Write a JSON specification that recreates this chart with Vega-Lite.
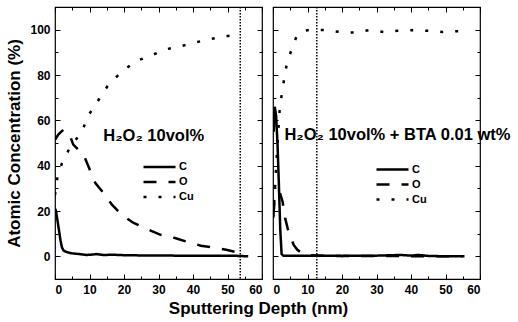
{
  "$schema": "https://vega.github.io/schema/vega-lite/v6.json",
  "padding": {"left": 5, "top": 5, "right": 0, "bottom": 0},
  "background": "white",
  "title": {"text": "Sputtering Depth (nm)", "orient": "bottom", "anchor": "middle", "font": "Liberation Sans", "fontSize": 17, "fontWeight": "bold", "color": "black", "offset": 5},
  "config": {
    "view": {"stroke": "black", "strokeWidth": 1.2},
    "axis": {"labelFont": "Liberation Sans", "labelFontSize": 12, "labelFontWeight": "bold", "labelColor": "black", "titleFont": "Liberation Sans", "titleFontSize": 17, "titleFontWeight": "bold", "titleColor": "black", "domain": false, "grid": false, "tickColor": "black", "tickWidth": 1},
    "legend": {"orient": "none", "title": null, "symbolType": "M-2,0H2", "symbolSize": 256, "symbolStrokeWidth": 2.5, "symbolStrokeColor": "black", "labelFont": "Liberation Sans", "labelFontSize": 11, "labelFontWeight": "bold", "labelColor": "black", "labelOffset": 10, "rowPadding": -1, "padding": 0},
    "concat": {"spacing": 7}
  },
  "datasets": {
    "left": [
      {"element": "C", "depth": 0.1, "value": 21}, {"element": "C", "depth": 0.4, "value": 19}, {"element": "C", "depth": 0.8, "value": 15}, {"element": "C", "depth": 1.2, "value": 11}, {"element": "C", "depth": 1.6, "value": 7}, {"element": "C", "depth": 2.0, "value": 4}, {"element": "C", "depth": 2.5, "value": 2.5}, {"element": "C", "depth": 3.5, "value": 1.8}, {"element": "C", "depth": 5, "value": 1.3}, {"element": "C", "depth": 7, "value": 1}, {"element": "C", "depth": 9, "value": 0.6}, {"element": "C", "depth": 11, "value": 0.8}, {"element": "C", "depth": 12, "value": 1}, {"element": "C", "depth": 14, "value": 0.6}, {"element": "C", "depth": 17, "value": 0.7}, {"element": "C", "depth": 20, "value": 0.5}, {"element": "C", "depth": 25, "value": 0.4}, {"element": "C", "depth": 30, "value": 0.4}, {"element": "C", "depth": 35, "value": 0.3}, {"element": "C", "depth": 40, "value": 0.3}, {"element": "C", "depth": 45, "value": 0.3}, {"element": "C", "depth": 50, "value": 0.3}, {"element": "C", "depth": 53, "value": 0.2}, {"element": "C", "depth": 56, "value": 0},
      {"element": "O", "depth": 0, "value": 51.4}, {"element": "O", "depth": 1, "value": 53.8}, {"element": "O", "depth": 2.4, "value": 55.8}, {"element": "O", "depth": 3.5, "value": 55}, {"element": "O", "depth": 4.5, "value": 52.5}, {"element": "O", "depth": 5.3, "value": 49.3}, {"element": "O", "depth": 6.8, "value": 47}, {"element": "O", "depth": 8.3, "value": 44.8}, {"element": "O", "depth": 9.7, "value": 39.6}, {"element": "O", "depth": 11.7, "value": 32.3}, {"element": "O", "depth": 14.1, "value": 27.9}, {"element": "O", "depth": 16.5, "value": 22.8}, {"element": "O", "depth": 19.4, "value": 18.3}, {"element": "O", "depth": 22.8, "value": 14.7}, {"element": "O", "depth": 27.2, "value": 11.7}, {"element": "O", "depth": 30.6, "value": 9.5}, {"element": "O", "depth": 35, "value": 8}, {"element": "O", "depth": 37.9, "value": 6.6}, {"element": "O", "depth": 42.3, "value": 4.7}, {"element": "O", "depth": 45.7, "value": 4}, {"element": "O", "depth": 49.6, "value": 2.9}, {"element": "O", "depth": 52.5, "value": 1.9}, {"element": "O", "depth": 54, "value": 1},
      {"element": "Cu", "depth": 0, "value": 27}, {"element": "Cu", "depth": 0.7, "value": 35}, {"element": "Cu", "depth": 2, "value": 41}, {"element": "Cu", "depth": 4, "value": 47}, {"element": "Cu", "depth": 5.8, "value": 51}, {"element": "Cu", "depth": 7.8, "value": 55}, {"element": "Cu", "depth": 9.6, "value": 62}, {"element": "Cu", "depth": 12.2, "value": 68}, {"element": "Cu", "depth": 15.2, "value": 75}, {"element": "Cu", "depth": 19, "value": 81}, {"element": "Cu", "depth": 23.3, "value": 86}, {"element": "Cu", "depth": 27.7, "value": 88.5}, {"element": "Cu", "depth": 32, "value": 91.3}, {"element": "Cu", "depth": 36.4, "value": 92.7}, {"element": "Cu", "depth": 40.8, "value": 94.4}, {"element": "Cu", "depth": 45.2, "value": 95.9}, {"element": "Cu", "depth": 50, "value": 97.2}, {"element": "Cu", "depth": 54, "value": 97.7}
    ],
    "right": [
      {"element": "C", "depth": 0.2, "value": 55}, {"element": "C", "depth": 0.5, "value": 66}, {"element": "C", "depth": 0.9, "value": 62}, {"element": "C", "depth": 1.3, "value": 50}, {"element": "C", "depth": 1.7, "value": 32}, {"element": "C", "depth": 2.1, "value": 12}, {"element": "C", "depth": 2.5, "value": 1}, {"element": "C", "depth": 3, "value": 0.3}, {"element": "C", "depth": 10, "value": 0.3}, {"element": "C", "depth": 20, "value": 0.2}, {"element": "C", "depth": 30, "value": 0.3}, {"element": "C", "depth": 37, "value": 0.6}, {"element": "C", "depth": 40, "value": 0.3}, {"element": "C", "depth": 42, "value": 0.6}, {"element": "C", "depth": 45, "value": 0.2}, {"element": "C", "depth": 50, "value": 0}, {"element": "C", "depth": 55.5, "value": 0},
      {"element": "O", "depth": 0.1, "value": 18}, {"element": "O", "depth": 0.5, "value": 25}, {"element": "O", "depth": 1.2, "value": 27}, {"element": "O", "depth": 2, "value": 28}, {"element": "O", "depth": 2.8, "value": 24}, {"element": "O", "depth": 3.5, "value": 17}, {"element": "O", "depth": 4.3, "value": 12}, {"element": "O", "depth": 5, "value": 9}, {"element": "O", "depth": 6, "value": 5}, {"element": "O", "depth": 7, "value": 3}, {"element": "O", "depth": 8.2, "value": 1.5}, {"element": "O", "depth": 10, "value": 0.5}, {"element": "O", "depth": 15, "value": 0.2}, {"element": "O", "depth": 55, "value": 0},
      {"element": "Cu", "depth": 0.1, "value": 17}, {"element": "Cu", "depth": 0.5, "value": 28}, {"element": "Cu", "depth": 1, "value": 42}, {"element": "Cu", "depth": 1.4, "value": 52}, {"element": "Cu", "depth": 1.9, "value": 64}, {"element": "Cu", "depth": 2.4, "value": 70}, {"element": "Cu", "depth": 3.1, "value": 77}, {"element": "Cu", "depth": 3.9, "value": 84}, {"element": "Cu", "depth": 5.1, "value": 90}, {"element": "Cu", "depth": 6.8, "value": 97}, {"element": "Cu", "depth": 9, "value": 99.5}, {"element": "Cu", "depth": 11, "value": 100}, {"element": "Cu", "depth": 15.1, "value": 99.8}, {"element": "Cu", "depth": 19.5, "value": 99}, {"element": "Cu", "depth": 23.6, "value": 98.7}, {"element": "Cu", "depth": 27.8, "value": 99.8}, {"element": "Cu", "depth": 32, "value": 99}, {"element": "Cu", "depth": 36, "value": 99.5}, {"element": "Cu", "depth": 40.5, "value": 99.8}, {"element": "Cu", "depth": 44.8, "value": 99.5}, {"element": "Cu", "depth": 49.2, "value": 99}, {"element": "Cu", "depth": 53.1, "value": 99.3}, {"element": "Cu", "depth": 55, "value": 99.3}
    ],
    "labels": [
      {"panel": "left", "label": "H₂O₂ 10vol%"},
      {"panel": "right", "label": "H₂O₂ 10vol% + BTA 0.01 wt%"}
    ]
  },
  "hconcat": [
    {
      "width": 207,
      "height": 272,
      "resolve": {"axis": {"x": "independent", "y": "independent"}},
      "layer": [
        {
          "data": {"name": "left"},
          "mark": {"type": "line", "color": "black", "clip": true},
          "encoding": {
            "x": {"field": "depth", "type": "quantitative", "scale": {"domain": [0, 60], "nice": false, "zero": false},
              "axis": {"orient": "bottom", "title": null, "values": [0, 5, 10, 15, 20, 25, 30, 35, 40, 45, 50, 55, 60], "labelExpr": "datum.value % 10 === 0 ? datum.label : ''", "tickSize": {"condition": {"test": "datum.value % 10 === 0", "value": -5}, "value": -3}, "labelPadding": 10}},
            "y": {"field": "value", "type": "quantitative", "scale": {"domain": [-10, 110], "nice": false, "zero": false},
              "axis": {"orient": "left", "title": "Atomic Concentration (%)", "values": [-10, 0, 10, 20, 30, 40, 50, 60, 70, 80, 90, 100, 110], "labelExpr": "datum.value % 20 === 0 && datum.value >= 0 && datum.value <= 100 ? datum.label : ''", "tickSize": {"condition": {"test": "datum.value % 20 === 0", "value": -5}, "value": -3}, "labelPadding": 10, "titlePadding": 6}},
            "strokeDash": {"field": "element", "type": "nominal", "scale": {"domain": ["C", "O", "Cu"], "range": [[1, 0], [13, 12], [3, 12]]},
              "legend": {"legendX": 95, "legendY": 150.5}},
            "strokeWidth": {"field": "element", "type": "nominal", "scale": {"domain": ["C", "O", "Cu"], "range": [2.5, 2.5, 3.5]}, "legend": null}
          }
        },
        {
          "data": {"values": [{}]},
          "mark": {"type": "rule", "color": "black", "strokeWidth": 1.5, "strokeDash": [1.5, 1.5]},
          "encoding": {
            "x": {"datum": 53.7, "type": "quantitative", "axis": {"orient": "top", "labels": false, "title": null, "values": [0, 5, 10, 15, 20, 25, 30, 35, 40, 45, 50, 55, 60], "tickSize": {"condition": {"test": "datum.value % 10 === 0", "value": -5}, "value": -3}}}
          }
        },
        {
          "data": {"name": "labels"},
          "transform": [{"filter": "datum.panel === 'left'"}],
          "mark": {"type": "text", "font": "Liberation Sans", "fontSize": 16.5, "fontWeight": "bold", "align": "left", "baseline": "middle", "color": "black"},
          "encoding": {
            "text": {"field": "label"},
            "x": {"datum": 14, "type": "quantitative", "axis": null},
            "y": {"datum": 53, "type": "quantitative", "axis": {"orient": "right", "labels": false, "title": null, "values": [-10, 0, 10, 20, 30, 40, 50, 60, 70, 80, 90, 100, 110], "tickSize": {"condition": {"test": "datum.value % 20 === 0", "value": -5}, "value": -3}}}
          }
        }
      ]
    },
    {
      "width": 207,
      "height": 272,
      "resolve": {"axis": {"x": "independent", "y": "independent"}},
      "layer": [
        {
          "data": {"name": "right"},
          "mark": {"type": "line", "color": "black", "clip": true},
          "encoding": {
            "x": {"field": "depth", "type": "quantitative", "scale": {"domain": [0, 60], "nice": false, "zero": false},
              "axis": {"orient": "bottom", "title": null, "values": [0, 5, 10, 15, 20, 25, 30, 35, 40, 45, 50, 55, 60], "labelExpr": "datum.value % 10 === 0 ? datum.label : ''", "tickSize": {"condition": {"test": "datum.value % 10 === 0", "value": -5}, "value": -3}, "labelPadding": 10}},
            "y": {"field": "value", "type": "quantitative", "scale": {"domain": [-10, 110], "nice": false, "zero": false},
              "axis": {"orient": "left", "title": null, "labels": false, "values": [-10, 0, 10, 20, 30, 40, 50, 60, 70, 80, 90, 100, 110], "tickSize": {"condition": {"test": "datum.value % 20 === 0", "value": -5}, "value": -3}}},
            "strokeDash": {"field": "element", "type": "nominal", "scale": {"domain": ["C", "O", "Cu"], "range": [[1, 0], [13, 12], [3, 12]]},
              "legend": {"legendX": 110, "legendY": 153}},
            "strokeWidth": {"field": "element", "type": "nominal", "scale": {"domain": ["C", "O", "Cu"], "range": [2.5, 2.5, 3.5]}, "legend": null}
          }
        },
        {
          "data": {"values": [{}]},
          "mark": {"type": "rule", "color": "black", "strokeWidth": 1.5, "strokeDash": [1.5, 1.5]},
          "encoding": {
            "x": {"datum": 12.7, "type": "quantitative", "axis": {"orient": "top", "labels": false, "title": null, "values": [0, 5, 10, 15, 20, 25, 30, 35, 40, 45, 50, 55, 60], "tickSize": {"condition": {"test": "datum.value % 10 === 0", "value": -5}, "value": -3}}}
          }
        },
        {
          "data": {"name": "labels"},
          "transform": [{"filter": "datum.panel === 'right'"}],
          "mark": {"type": "text", "font": "Liberation Sans", "fontSize": 16.5, "fontWeight": "bold", "align": "left", "baseline": "middle", "color": "black"},
          "encoding": {
            "text": {"field": "label"},
            "x": {"datum": 3.3, "type": "quantitative", "axis": null},
            "y": {"datum": 53.4, "type": "quantitative", "axis": {"orient": "right", "labels": false, "title": null, "values": [-10, 0, 10, 20, 30, 40, 50, 60, 70, 80, 90, 100, 110], "tickSize": {"condition": {"test": "datum.value % 20 === 0", "value": -5}, "value": -3}}}
          }
        }
      ]
    }
  ],
  "resolve": {"legend": {"strokeDash": "independent"}}
}
